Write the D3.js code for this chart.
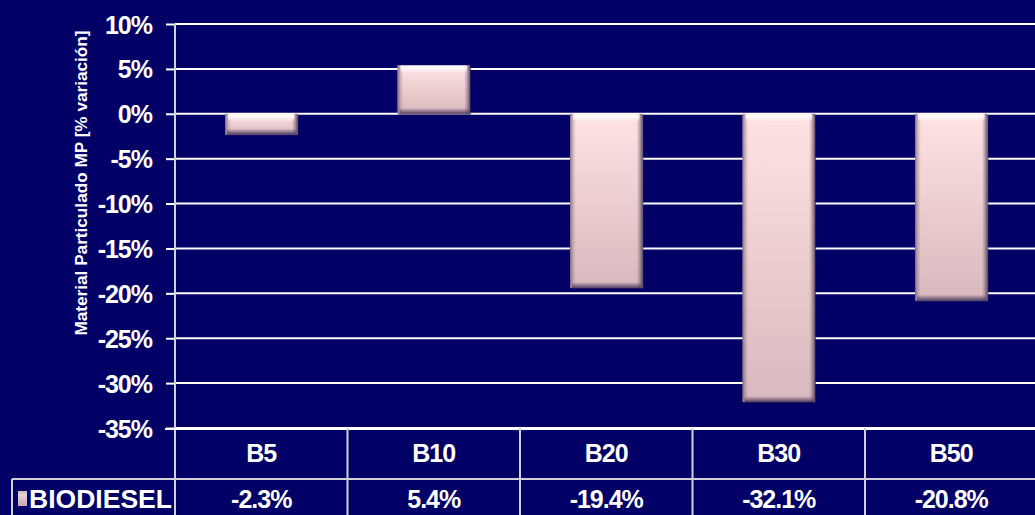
<!DOCTYPE html>
<html>
<head>
<meta charset="utf-8">
<script src="https://cdn.jsdelivr.net/npm/d3@7"></script>
<style>
  html, body { margin: 0; padding: 0; background: #020066; }
  svg { display: block; }
  text { font-family: "Liberation Sans", Arial, sans-serif; font-weight: bold; fill: #ffffff; }
</style>
</head>
<body>
<svg id="chart" width="1035" height="515"></svg>
<script>
// Data
const categories = ["B5", "B10", "B20", "B30", "B50"];
const values = [-2.3, 5.4, -19.4, -32.1, -20.8];
const valueLabels = ["-2.3%", "5.4%", "-19.4%", "-32.1%", "-20.8%"];
const yTicks = [10, 5, 0, -5, -10, -15, -20, -25, -30, -35];
const seriesName = "BIODIESEL";
const yTitle = "Material Particulado MP [% variación]";

const W = 1035, H = 515;
const svg = d3.select("#chart");

const plotLeft = 175, plotRight = 1037.5;
const y = d3.scaleLinear().domain([-35, 10]).range([428, 24]);
const xCell = d3.scaleBand().domain(categories).range([plotLeft, plotRight]).padding(0);
const x = d3.scaleBand().domain(categories).range([plotLeft, plotRight])
  .paddingInner(0.58).paddingOuter(0.29);

// Gradients for the bevelled bars
const defs = svg.append("defs");
function grad(id, horizontal, stops) {
  const g = defs.append("linearGradient").attr("id", id)
    .attr("x1", 0).attr("y1", 0).attr("x2", horizontal ? 1 : 0).attr("y2", horizontal ? 0 : 1);
  stops.forEach(([o, c, a]) => g.append("stop").attr("offset", o).attr("stop-color", c).attr("stop-opacity", a));
}
grad("barFill", false, [[0, "#ffe3e3", 1], [1, "#d8b9bd", 1]]);
grad("edgeL", true, [[0, "#5a4566", 0.75], [0.5, "#8a7080", 0.35], [1, "#a08890", 0]]);
grad("edgeR", true, [[0, "#a08890", 0], [0.5, "#7a6075", 0.45], [1, "#4a3858", 0.85]]);
grad("edgeT", false, [[0, "#ffffff", 0.35], [0.25, "#ffffff", 0.95], [1, "#ffffff", 0]]);
grad("edgeB", false, [[0, "#6a5470", 0], [0.6, "#5a4568", 0.6], [1, "#3e2e55", 0.9]]);

// Gridlines
svg.append("g").selectAll("line").data(yTicks).join("line")
  .attr("x1", plotLeft).attr("x2", W)
  .attr("y1", d => y(d)).attr("y2", d => y(d))
  .attr("stroke", "#ffffff").attr("stroke-width", 2);

// Y axis
const yAxis = d3.axisLeft(y).tickValues(yTicks).tickSize(9).tickPadding(14)
  .tickFormat(d => d + "%");
const gy = svg.append("g").attr("transform", `translate(${plotLeft},0)`).call(yAxis);
gy.select(".domain").remove();
gy.selectAll(".tick line").attr("stroke", "#ffffff").attr("stroke-width", 2);
gy.selectAll(".tick text").attr("font-size", 25).attr("fill", "#ffffff")
  .attr("font-family", "'Liberation Sans', Arial, sans-serif").attr("font-weight", "bold")
  .attr("dy", "0.36em").attr("letter-spacing", -1);

// Axis line
svg.append("line").attr("x1", plotLeft).attr("x2", plotLeft).attr("y1", y(10)).attr("y2", H)
  .attr("stroke", "#d0d0d8").attr("stroke-width", 2);

// Y title
svg.append("text")
  .attr("transform", `translate(87, ${(30 + 336) / 2}) rotate(-90)`)
  .attr("text-anchor", "middle").attr("font-size", 17)
  .attr("textLength", 305).attr("lengthAdjust", "spacingAndGlyphs")
  .text(yTitle);

// Bars: body plus bevelled edges of fixed thickness
const data = categories.map((c, i) => ({ c, v: values[i] }));
const bar = svg.append("g").selectAll("g").data(data).join("g")
  .attr("transform", d => `translate(${x(d.c)},${Math.min(y(0), y(d.v))})`);
const bw = x.bandwidth();
const bh = d => Math.abs(y(d.v) - y(0));
bar.append("rect").attr("x", 1).attr("y", 1).attr("width", bw).attr("height", bh)
  .attr("fill", "#2e2458").attr("opacity", 0.7);
bar.append("rect").attr("width", bw).attr("height", bh).attr("fill", "url(#barFill)");
bar.append("rect").attr("width", 6).attr("height", bh).attr("fill", "url(#edgeL)");
bar.append("rect").attr("x", bw - 6).attr("width", 6).attr("height", bh).attr("fill", "url(#edgeR)");
bar.append("rect").attr("x", 3).attr("width", bw - 6).attr("height", d => Math.min(8, bh(d) / 2))
  .attr("fill", "url(#edgeT)");
bar.append("rect").attr("x", 2).attr("y", d => bh(d) - Math.min(6, bh(d) / 3))
  .attr("width", bw - 3).attr("height", d => Math.min(6, bh(d) / 3))
  .attr("fill", "url(#edgeB)");

// Data table
const tTop = y(-35), tMid = 479;
const table = svg.append("g").attr("stroke", "#d0d0d8").attr("stroke-width", 2);
table.append("line").attr("x1", 165).attr("x2", W).attr("y1", tTop + 1).attr("y2", tTop + 1).attr("stroke", "#ffffff");
table.append("line").attr("x1", 12).attr("x2", W).attr("y1", tMid).attr("y2", tMid);
table.append("line").attr("x1", 12).attr("x2", 12).attr("y1", tMid).attr("y2", H);
table.selectAll("line.v").data(categories.slice(1)).join("line").attr("class", "v")
  .attr("x1", d => xCell(d)).attr("x2", d => xCell(d)).attr("y1", tTop).attr("y2", H);

svg.append("g").selectAll("text").data(categories).join("text")
  .attr("x", d => xCell(d) + xCell.bandwidth() / 2).attr("y", 462)
  .attr("text-anchor", "middle").attr("font-size", 25).attr("letter-spacing", -1)
  .text(d => d);
svg.append("g").selectAll("text").data(valueLabels).join("text")
  .attr("x", (d, i) => xCell(categories[i]) + xCell.bandwidth() / 2).attr("y", 508)
  .attr("text-anchor", "middle").attr("font-size", 25).attr("letter-spacing", -1)
  .text(d => d);

// Legend key
svg.append("rect").attr("x", 18).attr("y", 491).attr("width", 9).attr("height", 15)
  .attr("fill", "#c9a9ad");
svg.append("rect").attr("x", 18).attr("y", 491).attr("width", 9).attr("height", 15)
  .attr("fill", "url(#edgeT)").attr("opacity", 0.5);
svg.append("text").attr("x", 29).attr("y", 508).attr("font-size", 25)
  .attr("textLength", 143).attr("lengthAdjust", "spacingAndGlyphs")
  .text(seriesName);
</script>
</body>
</html>
